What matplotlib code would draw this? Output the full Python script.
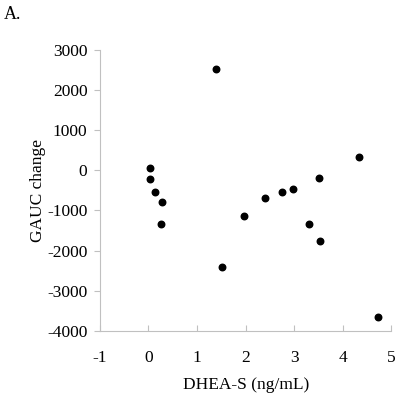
import matplotlib
matplotlib.use("Agg")
import matplotlib.pyplot as plt

# DHEA-S vs GAUC change
dhea_s = [1.38, 0.03, 0.03, 0.14, 0.27, 0.25, 1.52, 1.97, 2.40,
          2.75, 2.97, 3.30, 3.50, 3.53, 4.34, 4.73]
gauc_change = [2530, 60, -220, -540, -790, -1330, -2420, -1130, -690,
               -540, -470, -1330, -200, -1750, 340, -3650]

x_ticks = [-1, 0, 1, 2, 3, 4, 5]
y_ticks = [-4000, -3000, -2000, -1000, 0, 1000, 2000, 3000]

plt.rcParams['font.family'] = ['Liberation Serif', 'DejaVu Serif']
plt.rcParams['axes.unicode_minus'] = False

fig = plt.figure(figsize=(4.06, 3.98), dpi=100)
ax = fig.add_axes([0.246, 0.169, 0.718, 0.705])

ax.scatter(dhea_s, gauc_change, s=22, color='black', zorder=3)

ax.set_xlim(-1, 5)
ax.set_ylim(-4000, 3000)
ax.set_xticks(x_ticks)
ax.set_yticks(y_ticks)

for s in ['top', 'right']:
    ax.spines[s].set_visible(False)
for s in ['left', 'bottom']:
    ax.spines[s].set_color('#c0c0c0')
    ax.spines[s].set_linewidth(0.8)

ax.tick_params(axis='y', direction='out', length=4, color='#c0c0c0',
               labelsize=12.5, pad=5)
ax.tick_params(axis='x', direction='in', length=4, color='#c0c0c0',
               labelsize=12.5, pad=14)

ax.set_xlabel('DHEA-S (ng/mL)', fontsize=12.5, labelpad=8)
ax.set_ylabel('GAUC change', fontsize=12.5, labelpad=1)

fig.text(0.01, 0.985, 'A.', fontsize=13, va='top', ha='left')

fig.savefig('out.png', dpi=100)
